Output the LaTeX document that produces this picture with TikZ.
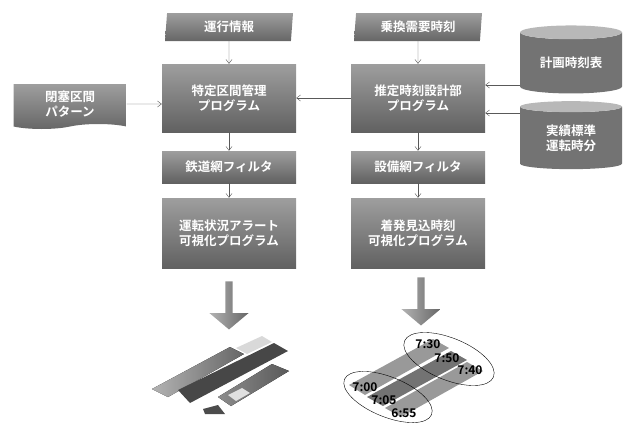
\documentclass[tikz,border=0pt]{standalone}
\usepackage{fontspec}
\setmainfont{Noto Sans CJK JP}[BoldFont={Noto Sans CJK JP Bold}]
\usetikzlibrary{arrows.meta, calc, positioning}
\usetikzlibrary{shapes.geometric, shapes.symbols, shapes.arrows}

\begin{document}
\begin{tikzpicture}[x=1pt, y=-1pt,% one unit = one point, y grows downwards
         > = {Straight Barb[length=4pt, width=6pt]},
jp/.style   = {font=\bfseries\fontsize{12.5}{15}\selectfont, text=white,
               align=center, inner sep=0pt},
prog/.style = {jp, rectangle, top color=black!38, bottom color=black!62,
               minimum width=134pt, minimum height=68pt},
filt/.style = {prog, minimum height=32pt},
data/.style = {jp, trapezium, trapezium left angle=80, trapezium right angle=100,
               trapezium stretches body, top color=black!38, bottom color=black!60,
               minimum width=128pt, minimum height=28pt},
db/.style   = {jp, cylinder, shape border rotate=90, aspect=0.22,
               cylinder uses custom fill, cylinder body fill=black!55,
               cylinder end fill=black!28, minimum width=102pt, minimum height=68pt},
flow/.style = {->, thin, gray!70!black},
big/.style  = {single arrow, rotate=-90, left color=black!30, right color=black!60,
               minimum width=24pt, minimum height=48pt,
               single arrow head extend=16pt, single arrow tip angle=100},
time/.style = {font=\bfseries\fontsize{12}{14}\selectfont, inner sep=0pt}
                        ]
	\useasboundingbox (0,0) rectangle (626,423);

	% inputs
	\node (info)    [data] at (229,27) {運行情報};
	\node (reqt)    [data] at (418,27) {乗換需要時刻};
	\node (pattern) [jp, tape, tape bend top=none, top color=black!38, bottom color=black!60,
	                 minimum width=113pt, minimum height=45pt] at (70,104) {閉塞区間\\パターン};
	\node (plan)    [db] at (571,63)  {計画時刻表};
	\node (actual)  [db] at (571,138) {実績標準\\運転時分};

	% programs
	\node (mgmt)   [prog] at (229,98)  {特定区間管理\\プログラム};
	\node (design) [prog] at (418,98)  {推定時刻設計部\\プログラム};
	\node (filtL)  [filt] at (229,167) {鉄道網フィルタ};
	\node (filtR)  [filt] at (418,167) {設備網フィルタ};
	\node (visL)   [prog, minimum height=70pt] at (229,233) {運転状況アラート\\可視化プログラム};
	\node (visR)   [prog, minimum height=70pt] at (418,233) {着発見込時刻\\可視化プログラム};

	% connectors
	\draw [flow] (info)    -- (mgmt);
	\draw [flow] (reqt)    -- (design);
	\draw [flow] (pattern) -- (pattern -| mgmt.west);
	\draw [flow] (design)  -- (mgmt);
	\coordinate (inA) at ($(design.east)+(0,-13)$);
	\coordinate (inB) at ($(design.east)+(0,15)$);
	\draw [flow] (plan.west |- inA)   -- (inA);
	\draw [flow] (actual.west |- inB) -- (inB);
	\draw [flow] (mgmt)  -- (filtL);
	\draw [flow] (filtL) -- (visL);
	\draw [flow] (design) -- (filtR);
	\draw [flow] (filtR) -- (visR);

	% output arrows
	\node (bigL) [big] at (229,304) {};
	\node (bigR) [big] at (421,300) {};

	% alert view: slanted track bars
	\fill [black!15] (236,348) -- (262,336) -- (272,342) -- (247,354) -- cycle;
	\fill [left color=black!30, right color=black!60] (152,389) -- (230,347) -- (244,354) -- (168,397) -- cycle;
	\fill [black!72] (178,390) -- (274,343) -- (288,351) -- (190,403) -- cycle;
	\fill [left color=black!45, right color=black!65] (218,397) -- (272,364) -- (289,371) -- (231,406) -- cycle;
	\fill [black!12] (228,395) -- (242,388) -- (250,393) -- (236,401) -- cycle;
	\fill [black!70] (203,409) -- (218,405) -- (225,414) -- (205,414) -- cycle;

	% arrival view: bars with time ellipses
	\fill [black!40] (349,385) -- (433,339) -- (449,348) -- (365,395) -- cycle;
	\fill [black!55] (367,397) -- (451,351) -- (467,360) -- (383,406) -- cycle;
	\fill [black!40] (385,408) -- (467,362) -- (483,371) -- (401,417) -- cycle;
	\draw [thin, rotate around={-22:(449,359)}] (449,359) ellipse [x radius=48, y radius=21];
	\draw [thin, rotate around={-22:(388,397)}] (388,397) ellipse [x radius=47, y radius=20];
	\node (t1) [time] at (428,344) {7:30};
	\node (t2) [time] at (447,358) {7:50};
	\node (t3) [time] at (470,370) {7:40};
	\node (t4) [time] at (365,387) {7:00};
	\node (t5) [time] at (384,400) {7:05};
	\node (t6) [time] at (404,413) {6:55};
\end{tikzpicture}
\end{document}
